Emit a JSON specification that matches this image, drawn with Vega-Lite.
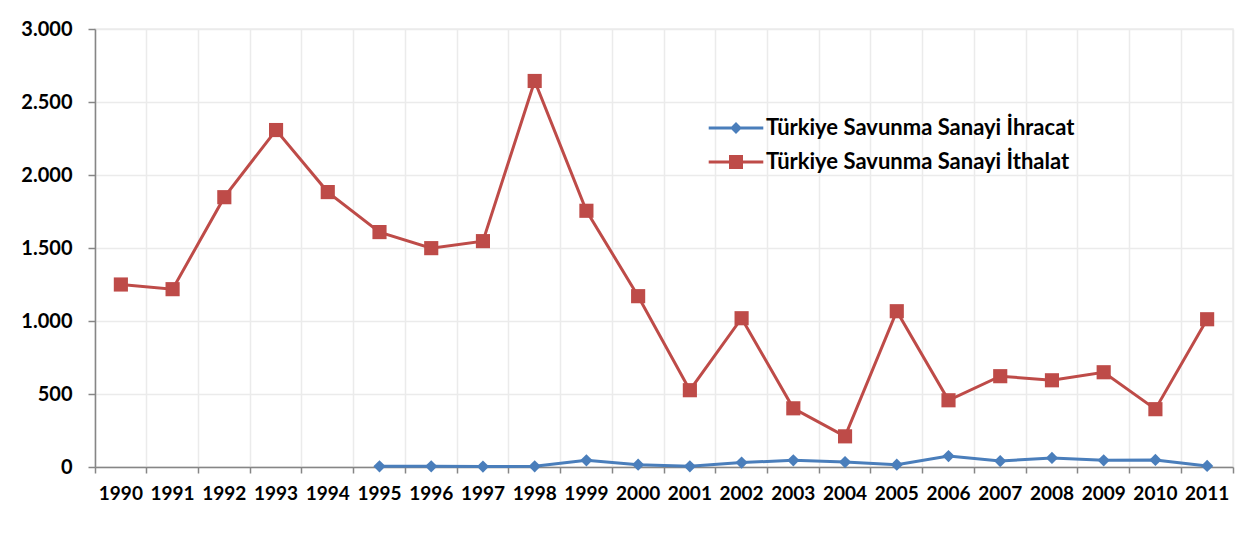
{
  "$schema": "https://vega.github.io/schema/vega-lite/v6.json",
  "autosize": "none",
  "padding": {"left": 95, "top": 29, "right": 15, "bottom": 68},
  "width": 1138,
  "height": 438,
  "background": "white",
  "config": {
    "view": {"stroke": "#EBEBEB", "strokeWidth": 1.5},
    "font": "Lato"
  },
  "data": {
    "values": [
      {"year": 1990, "series": "Türkiye Savunma Sanayi İthalat", "value": 1250},
      {"year": 1991, "series": "Türkiye Savunma Sanayi İthalat", "value": 1218},
      {"year": 1992, "series": "Türkiye Savunma Sanayi İthalat", "value": 1848},
      {"year": 1993, "series": "Türkiye Savunma Sanayi İthalat", "value": 2308},
      {"year": 1994, "series": "Türkiye Savunma Sanayi İthalat", "value": 1883},
      {"year": 1995, "series": "Türkiye Savunma Sanayi İthalat", "value": 1609},
      {"year": 1996, "series": "Türkiye Savunma Sanayi İthalat", "value": 1499},
      {"year": 1997, "series": "Türkiye Savunma Sanayi İthalat", "value": 1547},
      {"year": 1998, "series": "Türkiye Savunma Sanayi İthalat", "value": 2644},
      {"year": 1999, "series": "Türkiye Savunma Sanayi İthalat", "value": 1755},
      {"year": 2000, "series": "Türkiye Savunma Sanayi İthalat", "value": 1170},
      {"year": 2001, "series": "Türkiye Savunma Sanayi İthalat", "value": 526},
      {"year": 2002, "series": "Türkiye Savunma Sanayi İthalat", "value": 1019},
      {"year": 2003, "series": "Türkiye Savunma Sanayi İthalat", "value": 402},
      {"year": 2004, "series": "Türkiye Savunma Sanayi İthalat", "value": 210},
      {"year": 2005, "series": "Türkiye Savunma Sanayi İthalat", "value": 1067},
      {"year": 2006, "series": "Türkiye Savunma Sanayi İthalat", "value": 457},
      {"year": 2007, "series": "Türkiye Savunma Sanayi İthalat", "value": 622},
      {"year": 2008, "series": "Türkiye Savunma Sanayi İthalat", "value": 594},
      {"year": 2009, "series": "Türkiye Savunma Sanayi İthalat", "value": 649},
      {"year": 2010, "series": "Türkiye Savunma Sanayi İthalat", "value": 396},
      {"year": 2011, "series": "Türkiye Savunma Sanayi İthalat", "value": 1012},
      {"year": 1995, "series": "Türkiye Savunma Sanayi İhracat", "value": 5},
      {"year": 1996, "series": "Türkiye Savunma Sanayi İhracat", "value": 5},
      {"year": 1997, "series": "Türkiye Savunma Sanayi İhracat", "value": 3},
      {"year": 1998, "series": "Türkiye Savunma Sanayi İhracat", "value": 5},
      {"year": 1999, "series": "Türkiye Savunma Sanayi İhracat", "value": 46},
      {"year": 2000, "series": "Türkiye Savunma Sanayi İhracat", "value": 16},
      {"year": 2001, "series": "Türkiye Savunma Sanayi İhracat", "value": 5},
      {"year": 2002, "series": "Türkiye Savunma Sanayi İhracat", "value": 30},
      {"year": 2003, "series": "Türkiye Savunma Sanayi İhracat", "value": 46},
      {"year": 2004, "series": "Türkiye Savunma Sanayi İhracat", "value": 34},
      {"year": 2005, "series": "Türkiye Savunma Sanayi İhracat", "value": 16},
      {"year": 2006, "series": "Türkiye Savunma Sanayi İhracat", "value": 75},
      {"year": 2007, "series": "Türkiye Savunma Sanayi İhracat", "value": 41},
      {"year": 2008, "series": "Türkiye Savunma Sanayi İhracat", "value": 62},
      {"year": 2009, "series": "Türkiye Savunma Sanayi İhracat", "value": 46},
      {"year": 2010, "series": "Türkiye Savunma Sanayi İhracat", "value": 48},
      {"year": 2011, "series": "Türkiye Savunma Sanayi İhracat", "value": 7}
    ]
  },
  "encoding": {
    "x": {
      "field": "year",
      "type": "ordinal",
      "scale": {"type": "band", "paddingInner": 0, "paddingOuter": 0},
      "axis": {
        "title": null,
        "bandPosition": 1,
        "tickExtra": true,
        "labelAngle": 0,
        "labelFont": "Lato",
        "labelFontSize": 19,
        "labelFontWeight": "bold",
        "labelColor": "#000000",
        "labelPadding": 11,
        "ticks": true,
        "tickSize": 6,
        "tickColor": "#868686",
        "tickWidth": 1.5,
        "domainColor": "#868686",
        "domainWidth": 1.5,
        "grid": true,
        "gridColor": "#EBEBEB",
        "gridWidth": 1.5
      }
    },
    "y": {
      "field": "value",
      "type": "quantitative",
      "scale": {"domain": [0, 3000], "nice": false},
      "axis": {
        "title": null,
        "values": [0, 500, 1000, 1500, 2000, 2500, 3000],
        "labelExpr": "replace(format(datum.value, ','), ',', '.')",
        "labelFont": "Lato",
        "labelFontSize": 20,
        "labelFontWeight": "bold",
        "labelColor": "#000000",
        "labelPadding": 16,
        "tickSize": 7,
        "tickColor": "#868686",
        "tickWidth": 1.5,
        "domainColor": "#868686",
        "domainWidth": 1.5,
        "grid": true,
        "gridColor": "#EBEBEB",
        "gridWidth": 1.5
      }
    },
    "color": {
      "field": "series",
      "type": "nominal",
      "scale": {
        "domain": ["Türkiye Savunma Sanayi İhracat", "Türkiye Savunma Sanayi İthalat"],
        "range": ["#4A7EBB", "#BE4B48"]
      },
      "legend": {
        "title": null,
        "orient": "none",
        "legendX": 630,
        "legendY": 88,
        "padding": 0,
        "labelFont": "Lato",
        "labelFontSize": 22,
        "labelFontWeight": "bold",
        "labelColor": "#000000",
        "labelLimit": 500,
        "labelOffset": 19,
        "symbolSize": 196,
        "symbolStrokeWidth": 0,
        "rowPadding": 12,
        "encode": {
          "symbols": {
            "update": {
              "shape": {"signal": "datum.value === 'Türkiye Savunma Sanayi İhracat' ? 'M-3.9,-0.21H3.9V0.21H-3.9Z M-0.85,0L0,-0.85L0.85,0L0,0.85Z' : 'M-3.9,-0.21H3.9V0.21H-3.9Z M-1,-1H1V1H-1Z'"},
              "fill": {"scale": "color", "field": "value"},
              "fillOpacity": {"value": 1},
              "size": {"value": 196},
              "strokeWidth": {"value": 0},
              "opacity": {"value": 1}
            }
          }
        }
      }
    }
  },
  "layer": [
    {
      "mark": {"type": "line", "strokeWidth": 3},
      "encoding": {}
    },
    {
      "transform": [{"filter": "datum.series === 'Türkiye Savunma Sanayi İhracat'"}],
      "mark": {"type": "point", "filled": true, "opacity": 1, "shape": "diamond", "size": 150},
      "encoding": {}
    },
    {
      "transform": [{"filter": "datum.series === 'Türkiye Savunma Sanayi İthalat'"}],
      "mark": {"type": "point", "filled": true, "opacity": 1, "shape": "square", "size": 200},
      "encoding": {}
    }
  ]
}
